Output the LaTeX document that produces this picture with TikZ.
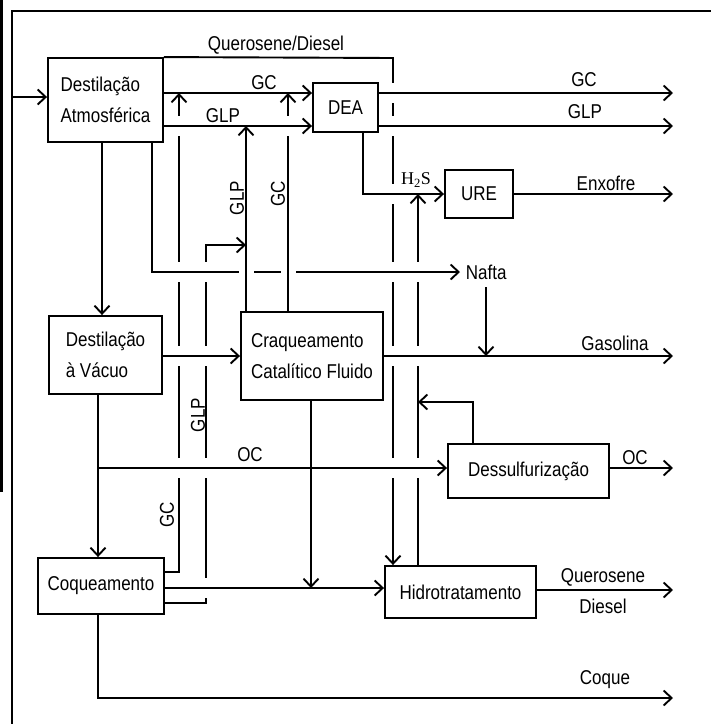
\documentclass[tikz,border=0pt]{standalone}
\usepackage{fontspec}
\setmainfont{Liberation Sans}[FakeStretch=0.85]
\newfontfamily\serifH{Liberation Serif}
\usetikzlibrary{arrows.meta}
\newcommand\lbfont{\fontsize{20}{31}\selectfont}
\newcommand\mkvgap[2]{\fill[white] (#1-3,#2-10) rectangle (#1+3,#2+10);}
\newcommand\mkhgap[2]{\fill[white] (#1-7.5,#2-3) rectangle (#1+7.5,#2+3);}
\begin{document}
\begin{tikzpicture}[x=1pt,y=-1pt,line width=1.9pt,
  arr/.style={-{Straight Barb[length=8pt,width=15pt]}},
  box/.style={draw,line width=1.9pt,inner sep=0pt,align=left,font=\lbfont,fill=white},
  lbl/.style={inner sep=0pt,font=\lbfont}]
\useasboundingbox (0,0) rectangle (711,724);
% frame
\fill (0,0) rectangle (3,492);
\draw[line width=1.4pt] (12,724) -- (12,11) -- (711,11);
% boxes
\node[box,minimum width=115pt,minimum height=84pt] (DA) at (105.5,100) {Destilação\\Atmosférica};
\node[box,minimum width=65pt,minimum height=49pt] (DEA) at (345.5,107.5) {DEA};
\node[box,minimum width=68pt,minimum height=48pt] (URE) at (479,194) {URE};
\node[box,minimum width=113pt,minimum height=78pt] (DV) at (105.5,355) {Destilação\\à Vácuo};
\node[box,minimum width=142pt,minimum height=88pt] (CCF) at (312,356) {Craqueamento\\Catalítico Fluido};
\node[box,minimum width=161pt,minimum height=54pt] (DES) at (528.5,471) {Dessulfurização};
\node[box,minimum width=126pt,minimum height=56pt] (COQ) at (101,586) {Coqueamento};
\node[box,minimum width=151pt,minimum height=52pt] (HDT) at (460.5,592) {Hidrotratamento};
\coordinate (oX) at (673,0);
\coordinate (inL) at (12,97);
\node[lbl,anchor=west] (nafta) at (465,272) {Nafta};
% ---- layer 1: lines passing under others
\draw[arr] (COQ.east |- 0,572) -| (179,93);
\draw[arr] (COQ.east |- 0,603) -| (206,245) -- (246,245);
\draw[arr] (DA.north east) -- (393,58) -- (HDT.north -| 393,0);
\draw[arr] (HDT.north -| 418,0) -- (418,194);
\mkvgap{179}{126}\mkvgap{179}{272}\mkvgap{179}{356}\mkvgap{179}{468}
\mkvgap{206}{272}\mkvgap{206}{356}\mkvgap{206}{468}\mkvgap{206}{588}
\mkvgap{393}{93}\mkvgap{393}{126}\mkvgap{393}{194}\mkvgap{393}{272}\mkvgap{393}{356}\mkvgap{393}{468}
\mkvgap{418}{272}\mkvgap{418}{356}\mkvgap{418}{468}
% ---- layer 2
\draw[arr] (inL) -- (DA.west |- inL);
\draw[arr] (DA.south -| 102,0) -- (DV.north -| 102,0);
\draw[arr] (DA.south -| 152,0) |- ([xshift=-5pt]nafta.west);
\draw[arr] (DA.east |- 0,93) -- (DEA.west |- 0,93);
\draw[arr] (DEA.east |- 0,93) -- (oX |- 0,93);
\draw[arr] (DEA.east |- 0,126) -- (oX |- 0,126);
\draw[arr] (DEA.south -| 363,0) |- (URE.west);
\draw[arr] (URE.east) -- (URE.east -| oX);
\draw[arr] (DV.east |- CCF.west) -- (CCF.west);
\draw[arr] (CCF.east) -- (CCF.east -| oX);
\draw[arr] ([yshift=-7pt]nafta.south -| 486,0) -- (CCF.east -| 486,0);
\draw[arr] (DV.south -| 98,0) -- (COQ.north -| 98,0);
\coordinate (jOC) at (98,468);
\draw[arr] (jOC) -- (DES.west |- jOC);
\draw[arr] (DES.east |- jOC) -- (oX |- jOC);
\draw[arr] (DES.north -| 473,0) |- (418,402);
\draw[arr] (CCF.south -| 311,0) -- (311,588);
\draw[arr] (COQ.east |- 0,588) -- (HDT.west |- 0,588);
\draw[arr] (HDT.east |- 0,590) -- (oX |- 0,590);
\draw[arr] (COQ.south -| 98,0) |- (oX |- 0,698);
\mkhgap{246}{272}\mkhgap{288}{272}
% ---- layer 3
\draw[arr] (CCF.north -| 246,0) -- (246,126);
\draw[arr] (CCF.north -| 288,0) -- (288,93);
\mkvgap{288}{126}
\draw[arr] (DA.east |- 0,126) -- (DEA.west |- 0,126);
% labels
\node[lbl] at (276,45) {Querosene/Diesel};
\node[lbl] at (264,83) {GC};
\node[lbl] at (223,116) {GLP};
\node[lbl] at (584,80) {GC};
\node[lbl] at (585,112) {GLP};
\node[inner sep=0pt,font=\serifH\fontsize{18}{20}\selectfont] at (416,180) {H\textsubscript{2}S};
\node[lbl] at (606,183) {Enxofre};
\node[lbl] at (615,343) {Gasolina};
\node[lbl] at (250,455) {OC};
\node[lbl] at (635,458) {OC};
\node[lbl,rotate=90] at (198,415) {GLP};
\node[lbl,rotate=90] at (167,515) {GC};
\node[lbl,rotate=90] at (237,198) {GLP};
\node[lbl,rotate=90] at (278,194) {GC};
\node[lbl] at (603,577) {Querosene};
\node[lbl] at (603,606) {Diesel};
\node[lbl] at (605,680) {Coque};
\end{tikzpicture}
\end{document}
